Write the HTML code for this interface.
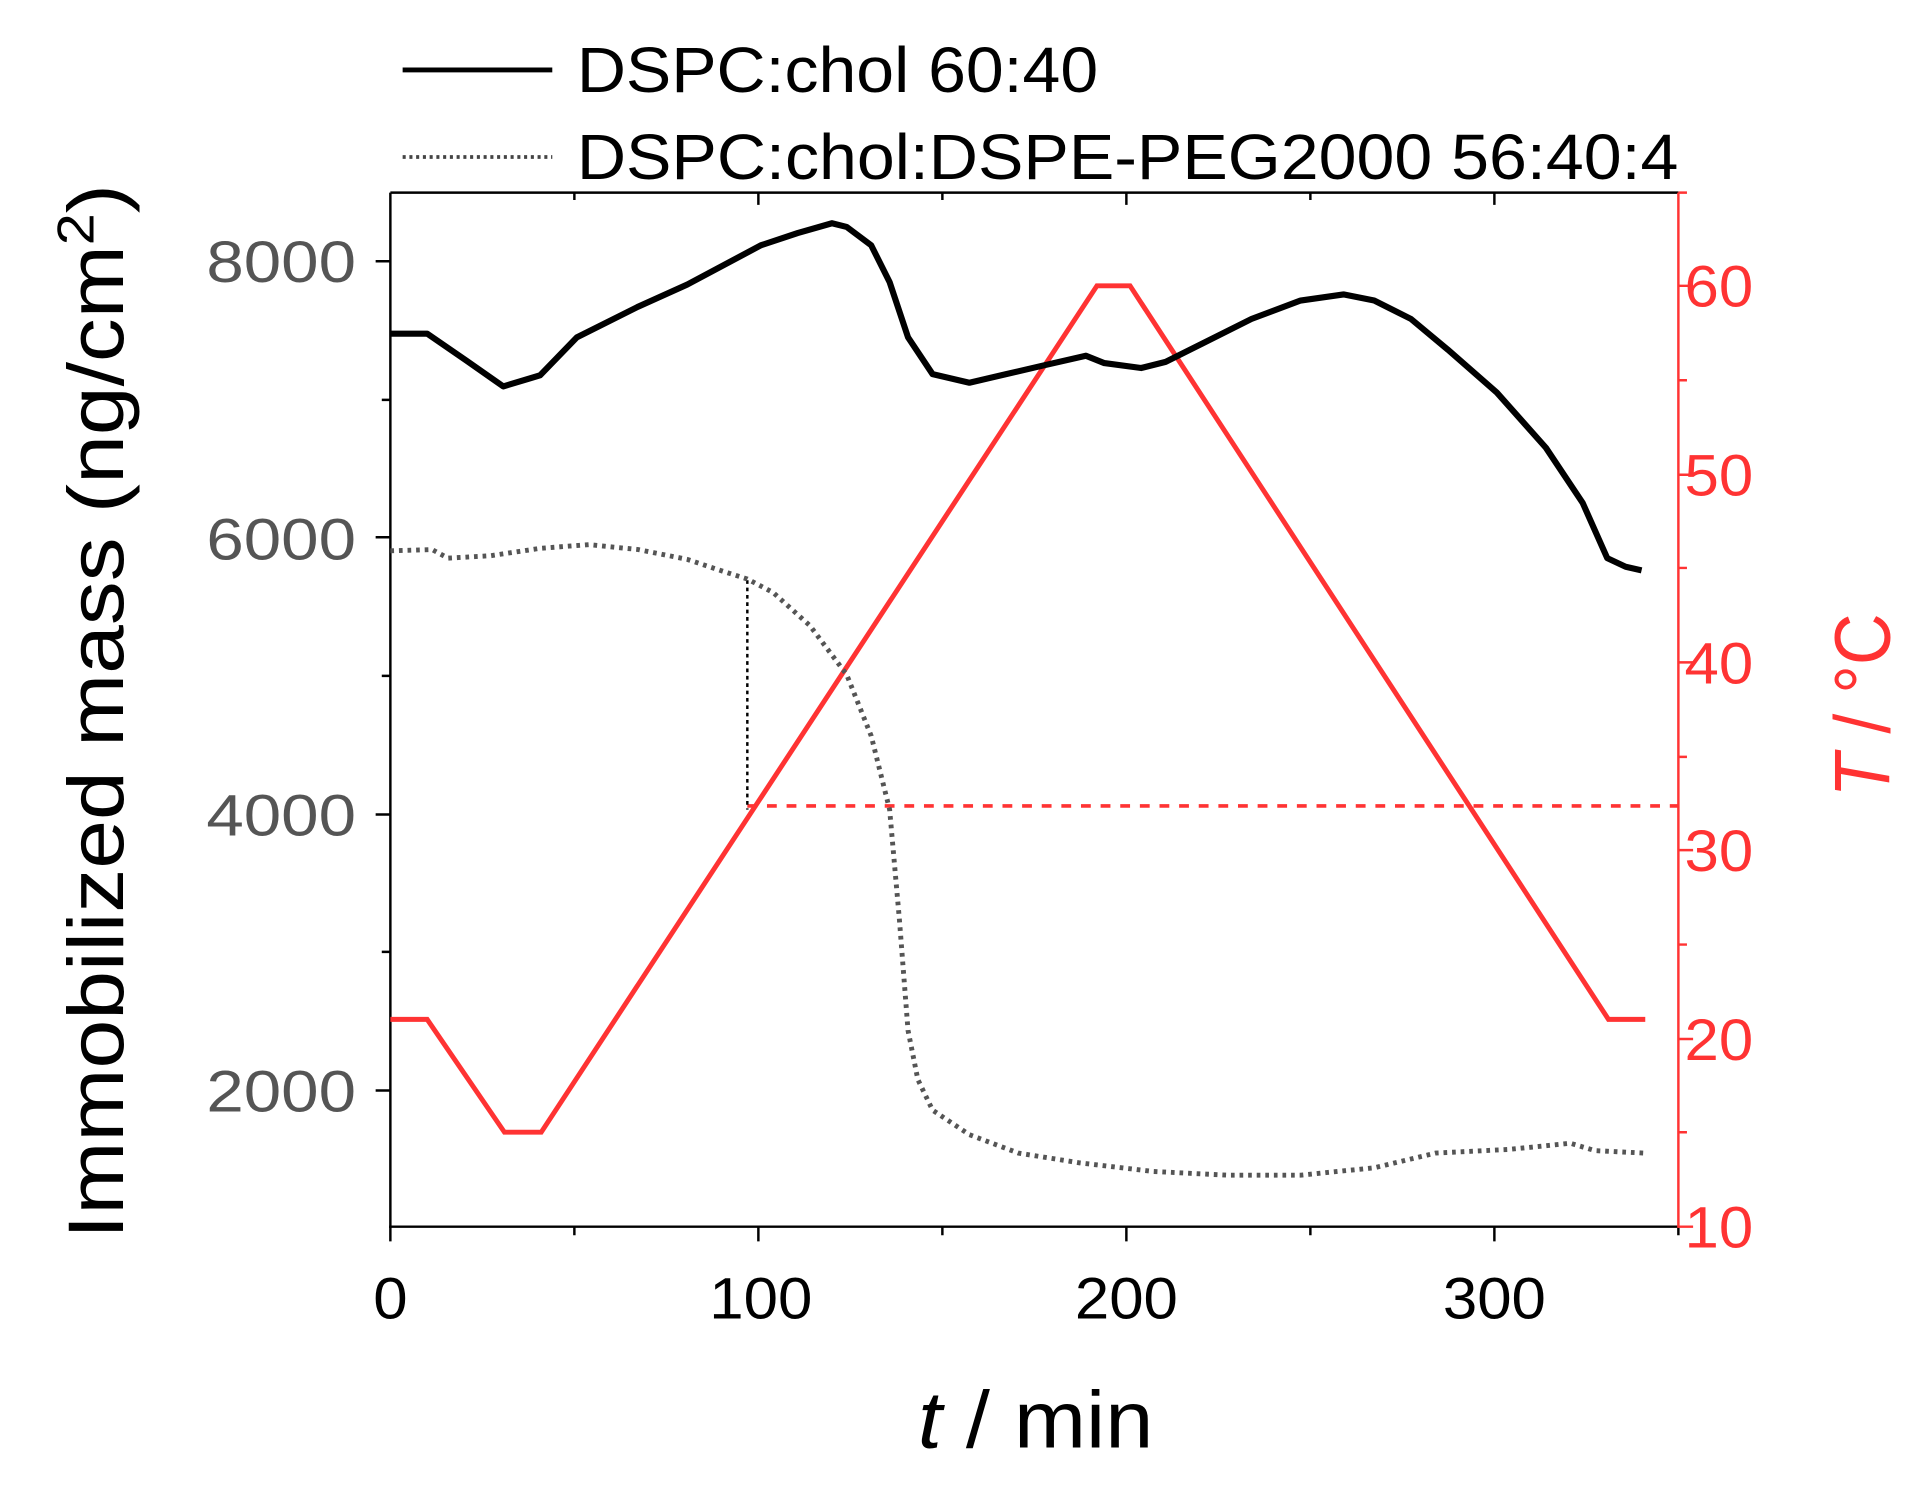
<!DOCTYPE html>
<html><head><meta charset="utf-8"><style>html,body{margin:0;padding:0;background:#fff}svg{display:block}</style></head><body>
<svg width="1924" height="1499" viewBox="0 0 1568 1222" xmlns="http://www.w3.org/2000/svg" font-family="Liberation Sans, sans-serif">
<rect width="1568" height="1222" fill="#fff"/>
<g stroke="#000" stroke-width="2" fill="none">
<line x1="318" y1="157" x2="318" y2="1001"/>
<line x1="317" y1="1000" x2="1368" y2="1000"/>
<line x1="318" y1="157" x2="1368" y2="157"/>
<path d="M318 1000v12M618 1000v12M918 1000v12M1218 1000v12M468 1000v7M768 1000v7M1068 1000v7M1368 1000v7"/>
<path d="M618 157v10M918 157v10M1218 157v10M468 157v6M768 157v6M1068 157v6"/>
<path d="M318 213h-12M318 438h-12M318 664h-12M318 889h-12M318 326h-7M318 551h-7M318 776h-7"/>
</g>
<g stroke="#f33" stroke-width="2" fill="none">
<line x1="1368" y1="157" x2="1368" y2="1001"/>
<path d="M1368 1000h12M1368 847h12M1368 693h12M1368 540h12M1368 387h12M1368 233h12M1368 923h7M1368 770h7M1368 617h7M1368 463h7M1368 310h7M1368 157h7"/>
</g>
<g font-size="48" fill="#555">
<text x="168" y="230" textLength="122" lengthAdjust="spacingAndGlyphs">8000</text>
<text x="168" y="456" textLength="122" lengthAdjust="spacingAndGlyphs">6000</text>
<text x="168" y="681" textLength="122" lengthAdjust="spacingAndGlyphs">4000</text>
<text x="168" y="906" textLength="122" lengthAdjust="spacingAndGlyphs">2000</text>
</g>
<g font-size="48" fill="#000">
<text x="304" y="1075" textLength="28" lengthAdjust="spacingAndGlyphs">0</text>
<text x="578" y="1075" textLength="84" lengthAdjust="spacingAndGlyphs">100</text>
<text x="876" y="1075" textLength="84" lengthAdjust="spacingAndGlyphs">200</text>
<text x="1176" y="1075" textLength="84" lengthAdjust="spacingAndGlyphs">300</text>
</g>
<g font-size="48" fill="#f33">
<text x="1373" y="250" textLength="56" lengthAdjust="spacingAndGlyphs">60</text>
<text x="1373" y="404" textLength="56" lengthAdjust="spacingAndGlyphs">50</text>
<text x="1373" y="557" textLength="56" lengthAdjust="spacingAndGlyphs">40</text>
<text x="1373" y="710" textLength="56" lengthAdjust="spacingAndGlyphs">30</text>
<text x="1373" y="864" textLength="56" lengthAdjust="spacingAndGlyphs">20</text>
<text x="1373" y="1017" textLength="56" lengthAdjust="spacingAndGlyphs">10</text>
</g>
<text x="748" y="1180" font-size="66" textLength="192" lengthAdjust="spacingAndGlyphs"><tspan font-style="italic">t</tspan> / min</text>
<text transform="translate(100,1010) rotate(-90)" font-size="64" textLength="860" lengthAdjust="spacingAndGlyphs">Immobilized mass (ng/cm<tspan font-size="42" dy="-24">2</tspan><tspan dy="24">)</tspan></text>
<text transform="translate(1540,650) rotate(-90)" font-size="64" fill="#f33" textLength="150" lengthAdjust="spacingAndGlyphs"><tspan font-style="italic">T</tspan> / °C</text>
<line x1="328" y1="57" x2="450" y2="57" stroke="#000" stroke-width="4"/>
<text x="470" y="75" font-size="52" textLength="425" lengthAdjust="spacingAndGlyphs">DSPC:chol 60:40</text>
<line x1="328" y1="128" x2="450" y2="128" stroke="#444" stroke-width="3" stroke-dasharray="2.5 3"/>
<text x="470" y="146" font-size="52" textLength="898" lengthAdjust="spacingAndGlyphs">DSPC:chol:DSPE-PEG2000 56:40:4</text>
<polyline fill="none" stroke="#f33" stroke-width="4" points="318,831 348,831 411,923 441,923 894,233 921,233 1311,831 1341,831"/>
<line x1="609" y1="657" x2="1368" y2="657" stroke="#f33" stroke-width="3" stroke-dasharray="8 8"/>
<line x1="609" y1="473" x2="609" y2="660" stroke="#000" stroke-width="2" stroke-dasharray="3 3"/>
<polyline fill="none" stroke="#000" stroke-width="5" stroke-linejoin="round" points="318,272 348,272 380,294 410,315 440,306 470,275 520,250 560,232 620,200 650,190 678,182 690,185 710,200 725,230 740,275 760,305 790,312 820,305 850,298 885,290 900,296 930,300 950,295 980,280 1020,260 1060,245 1095,240 1120,245 1150,260 1180,285 1220,320 1260,365 1290,410 1310,455 1325,462 1338,465"/>
<polyline fill="none" stroke="#555" stroke-width="4" stroke-dasharray="3 4" points="318,449 352,448 365,455 400,453 440,447 480,444 520,448 560,456 590,466 609,472 630,483 660,510 690,550 710,600 725,660 733,750 740,840 748,880 760,905 790,925 830,940 880,948 940,955 1000,958 1060,958 1120,952 1170,940 1230,937 1280,932 1300,938 1340,940"/>
</svg>
</body></html>
